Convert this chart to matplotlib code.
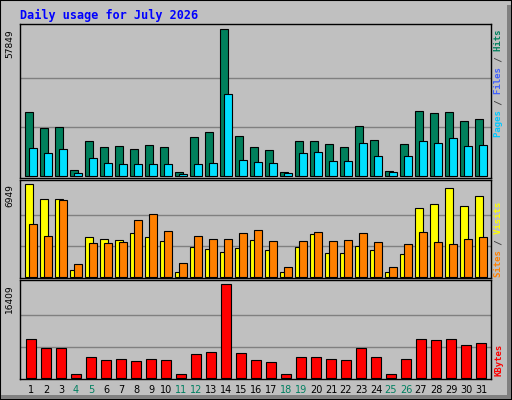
import matplotlib.pyplot as plt
from matplotlib.patches import Rectangle

days = list(range(1, 32))
weekends = [4, 5, 11, 12, 18, 19, 25, 26]

hits = [25264, 18981, 19373, 2487, 13875, 11519, 11912, 10734, 12305, 11519,
        1702, 15446, 17410, 57849, 15839, 11519, 10341, 1702, 13875, 13875,
        12697, 11519, 19766, 14268, 2094, 12697, 25656, 24871, 25264, 21729, 22515]
files = [11127, 9163, 10734, 1309, 7200, 5236, 4843, 4843, 4843, 4843,
         916, 4843, 5236, 32332, 6414, 5629, 5236, 1309, 9163, 9556,
         6021, 6021, 13090, 7985, 1702, 7985, 13875, 13090, 15054, 11912, 12305]
visits = [6949, 5821, 5821, 477, 2961, 2810, 2735, 3262, 2961, 2660,
          326, 2208, 2057, 1832, 2133, 2735, 1982, 326, 2208, 3186,
          1756, 1756, 2283, 1982, 326, 1681, 5143, 5444, 6649, 5294, 6047]
sites = [3939, 3036, 5745, 928, 2509, 2509, 2584, 4240, 4692, 3412,
         1004, 3036, 2810, 2810, 3262, 3487, 2660, 703, 2660, 3337,
         2660, 2735, 3262, 2584, 703, 2434, 3337, 2584, 2434, 2810, 2961]
kbytes = [6887, 5270, 5270, 599, 3653, 3114, 3294, 2935, 3294, 3114,
          599, 4192, 4552, 16409, 4372, 3114, 2755, 599, 3653, 3653,
          3294, 3114, 5270, 3653, 599, 3294, 6887, 6708, 6887, 5809, 6169]

BG = '#c0c0c0'
W, H = 512, 400
fig = plt.figure(figsize=(W / 100, H / 100), dpi=100, facecolor=BG)

# frame
fig.patches.append(Rectangle((0, 0), 1, 1, transform=fig.transFigure, fill=False,
                             edgecolor='black', linewidth=1.5))
fig.patches.append(Rectangle((1 / W, 1 / H), 1 - 2 / W, 4 / H, transform=fig.transFigure,
                             facecolor='#808080', edgecolor='none'))
fig.patches.append(Rectangle((1 - 5 / W, 1 / H), 4 / W, 1 - 6 / H, transform=fig.transFigure,
                             facecolor='#808080', edgecolor='none'))


def panel(top, bottom):
    ax = fig.add_axes([20 / W, 1 - bottom / H, 471 / W, (bottom - top) / H])
    ax.set_facecolor(BG)
    for s in ax.spines.values():
        s.set_color('black')
        s.set_linewidth(1)
    ax.set_xlim(0.27, 31.67)
    ax.set_xticks([])
    ax.set_yticks([])
    return ax


def grid(ax, vmax):
    for f in (1 / 3, 2 / 3):
        ax.axhline(vmax * f, color='#808080', linewidth=1, zorder=0)


def maxlabel(ax, vmax):
    ax.text(-0.012, vmax, str(vmax), transform=ax.get_yaxis_transform(), rotation=90,
            ha='right', va='top', fontsize=6.5)


def sidelabel(parts, y_bottom):
    # each coloured piece is the full string with the other pieces blanked out
    full = ''.join(t for t, _ in parts)
    pos = 0
    for txt, col in parts:
        s = ' ' * pos + txt + ' ' * (len(full) - pos - len(txt))
        pos += len(txt)
        fig.text(494 / W, 1 - y_bottom / H, s, rotation=90, ha='left', va='bottom',
                 color=col, fontsize=6.5, family='DejaVu Sans Mono', fontweight='bold')


ec = dict(edgecolor='black', linewidth=0.8)

ax1 = panel(24, 178)
ax1.set_ylim(-700, max(hits) * 1.035)
grid(ax1, max(hits))
ax1.bar([d - 0.13 for d in days], hits, width=0.49, color='#00805c', **ec)
ax1.bar([d + 0.13 for d in days], files, width=0.49, color='#00e0ff', **ec)
maxlabel(ax1, max(hits))

ax2 = panel(180, 278)
ax2.set_ylim(-90, max(visits) * 1.045)
grid(ax2, max(visits))
ax2.bar([d - 0.13 for d in days], visits, width=0.52, color='#ffff00', **ec)
ax2.bar([d + 0.13 for d in days], sites, width=0.49, color='#ff8000', **ec)
maxlabel(ax2, max(visits))

ax3 = panel(280, 379)
ax3.set_ylim(-200, max(kbytes) * 1.045)
grid(ax3, max(kbytes))
ax3.bar(days, kbytes, width=0.69, color='#ff0000', **ec)
maxlabel(ax3, max(kbytes))
ax3.set_xticks(days)
ax3.set_xticklabels([str(d) for d in days], fontsize=7)
ax3.tick_params(length=0, pad=4)
for lbl, d in zip(ax3.get_xticklabels(), days):
    if d in weekends:
        lbl.set_color('#008060')

fig.text(20 / W, 1 - 15 / H, 'Daily usage for July 2026', ha='left', va='center',
         color='#0000ff', fontsize=8.5, family='DejaVu Sans Mono', fontweight='bold')

sidelabel([('Pages', '#00c8ff'), (' / ', '#404040'), ('Files', '#4060ff'),
           (' / ', '#404040'), ('Hits', '#00805c')], 137)
sidelabel([('Sites', '#ff8000'), (' / ', '#404040'), ('Visits', '#ffff00')], 277)
sidelabel([('KBytes', '#ff0000')], 376)

fig.savefig('out.png', dpi=100, facecolor=BG)
